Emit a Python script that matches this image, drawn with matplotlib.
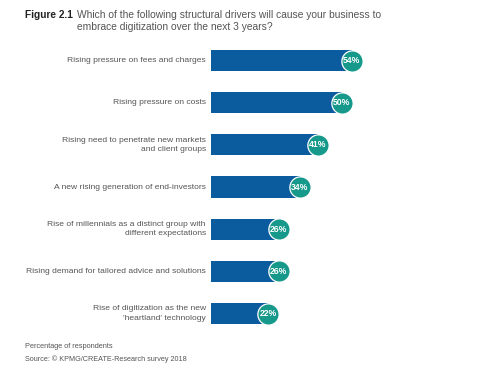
import matplotlib.pyplot as plt

drivers = [
    "Rising pressure on fees and charges",
    "Rising pressure on costs",
    "Rising need to penetrate new markets\nand client groups",
    "A new rising generation of end-investors",
    "Rise of millennials as a distinct group with\ndifferent expectations",
    "Rising demand for tailored advice and solutions",
    "Rise of digitization as the new\n'heartland' technology",
]
shares = [54, 50, 41, 34, 26, 26, 22]

plt.rcParams['font.family'] = ['Liberation Sans', 'DejaVu Sans']

BLUE = "#0b5c9e"
TEAL = "#16998a"
GREY = "#555555"

fig = plt.figure(figsize=(4.88, 3.72), dpi=100)
ax = fig.add_axes([211 / 488, 0.1005, 261 / 488, 0.7935])

ypos = list(range(len(shares)))
ax.barh(ypos, shares, height=0.5, color=BLUE)
ax.scatter(shares, ypos, s=235, color=TEAL, edgecolors="white", linewidths=0.9, zorder=3)
for y, v, lab in zip(ypos, shares, drivers):
    ax.text(v, y, f"{v}%", ha="center", va="center", color="white",
            fontsize=6.2, fontweight="bold", zorder=4)
    ax.text(-2, y, lab, ha="right", va="center", color=GREY, fontsize=6.1,
            linespacing=1.45)

ax.set_xlim(0, 100)
ax.set_ylim(len(shares) - 0.5, -0.5)
ax.axis("off")

fig.text(25 / 488, 1 - 15 / 372, "Figure 2.1", fontsize=7.3, fontweight="bold",
         color="#222222", va="center")
fig.text(77 / 488, 1 - 15 / 372, "Which of the following structural drivers will cause your business to",
         fontsize=7.4, color=GREY, va="center")
fig.text(77 / 488, 1 - 27 / 372, "embrace digitization over the next 3 years?",
         fontsize=7.4, color=GREY, va="center")

fig.text(25 / 488, 1 - 346 / 372, "Percentage of respondents", fontsize=5.3, color=GREY, va="center")
fig.text(25 / 488, 1 - 359 / 372, "Source: \u00a9 KPMG/CREATE-Research survey 2018", fontsize=5.2,
         color=GREY, va="center")

fig.savefig("out.png", dpi=100)
